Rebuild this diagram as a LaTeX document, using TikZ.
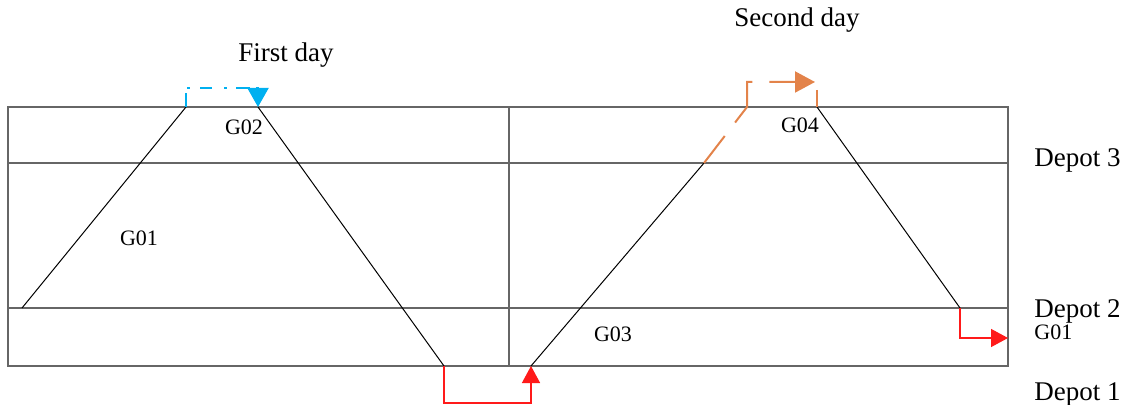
\documentclass[tikz,border=0pt]{standalone}
\usepackage{fontspec}
\setmainfont{Liberation Serif}
\usetikzlibrary{arrows.meta}
\definecolor{routeblue}{HTML}{00B0F0}
\definecolor{routeorange}{HTML}{E3834A}
\definecolor{routered}{HTML}{FF1A1A}

\begin{document}
\begin{tikzpicture}[
  x=0.5pt, y=-0.5pt,
  every node/.style={inner sep=0pt, text=black},
  grid/.style={draw=black!60, line width=0.6pt},
  leg/.style={black, line width=0.5pt},
  biglabel/.style={font=\fontsize{13.5}{16}\selectfont},
  trainlabel/.style={font=\fontsize{11}{13}\selectfont, anchor=base},
  redtip/.style={-{Triangle[width=9pt, length=8.5pt]}, routered, line width=0.7pt},
  bluetip/.style={-{Triangle[width=10.5pt, length=9.5pt]}, routeblue, line width=1pt},
  orangetip/.style={-{Triangle[width=10.5pt, length=10pt]}, routeorange, line width=1pt}
]
\useasboundingbox (0,0) rectangle (1133,405);

% timetable frame
\coordinate (nw) at (8,107);
\coordinate (se) at (1008,366);
\draw[grid] (nw) rectangle (se);
\draw[grid] (509,107) -- (509,366);
\draw[grid] (8,163) -- (1008,163);
\draw[grid] (8,308) -- (1008,308);

% turning points of the routes
\coordinate (a1) at (22,308);
\coordinate (a2) at (186,107);
\coordinate (a3) at (258,107);
\coordinate (a4) at (444,366);
\coordinate (b1) at (531,366);
\coordinate (b2) at (704,163);
\coordinate (b3) at (747,107);
\coordinate (b4) at (817,107);
\coordinate (b5) at (960,308);

% train legs
\draw[leg] (a1) -- (a2);
\draw[leg] (a3) -- (a4);
\draw[leg] (b1) -- (b2);
\draw[leg] (b4) -- (b5);

% turnarounds
\draw[bluetip, dash pattern=on 7pt off 3pt on 1.5pt off 5pt on 6pt off 6pt on 1.5pt off 4.5pt]
  (a2) -- (186,88) -- (258,88) -- (a3);
\draw[orangetip, dash pattern=on 17pt off 8.5pt on 25pt off 8.5pt on 50pt]
  (b2) -- (b3) -- (747,82) -- (815,82);
\draw[routeorange, line width=1pt] (817,90) -- (b4);
\draw[redtip] (a4) -- (444,403) -- (531,403) -- (b1);
\draw[redtip] (b5) -- (960,338) -- (1008,338);

% day titles
\node[biglabel, anchor=base] (firstday) at (286,62) {First day};
\node[biglabel, anchor=base] (secondday) at (797,27) {Second day};

% train numbers
\node[trainlabel] (g02) at (244,135) {G02};
\node[trainlabel] (g01) at (139,246) {G01};
\node[trainlabel] (g04) at (800,133) {G04};
\node[trainlabel] (g03) at (613,341) {G03};
\node[trainlabel, anchor=base west] (g01next) at (1034,339) {G01};

% depots
\node[biglabel, anchor=base west] (depot3) at (1034,167) {Depot 3};
\node[biglabel, anchor=base west] (depot2) at (1034,317) {Depot 2};
\node[biglabel, anchor=base west] (depot1) at (1034,400) {Depot 1};

\end{tikzpicture}
\end{document}
